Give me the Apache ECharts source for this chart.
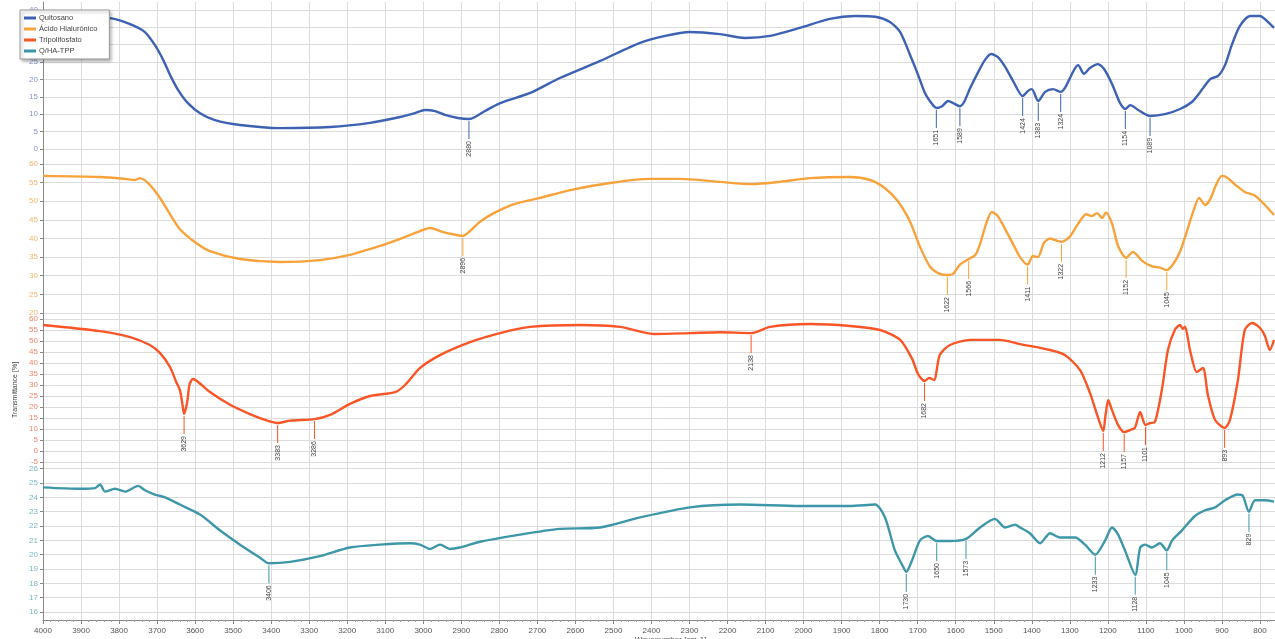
<!DOCTYPE html>
<html>
<head>
<meta charset="utf-8">
<script src="https://cdn.jsdelivr.net/npm/echarts@6/dist/echarts.min.js"></script>
<style>
  html, body { margin: 0; padding: 0; background: #fff; }
  #chart { width: 1275px; height: 639px; }
</style>
</head>
<body>
<div id="chart"></div>
<script>
// FTIR spectra, [wavenumber cm-1, transmittance %]
const quitosano = [
  [4000,38.8],[3929,38.2],[3824,37.6],[3771,35.9],[3732,33.6],[3706,29.9],[3684,25.6],[3666,21.3],
  [3645,17.0],[3619,13.2],[3587,10.3],[3548,8.3],[3482,6.9],[3377,6.0],[3245,6.3],[3140,7.5],
  [3061,9.2],[3022,10.3],[2996,11.2],[2969,10.9],[2943,9.8],[2909,8.9],[2880,8.6],[2864,9.2],
  [2838,10.9],[2798,13.2],[2719,16.1],[2641,20.4],[2535,25.3],[2430,30.5],[2364,32.5],[2299,33.6],
  [2220,33.0],[2154,31.9],[2088,32.5],[2010,34.8],[1931,37.4],[1865,38.2],[1812,38.0],[1773,36.5],
  [1746,33.6],[1720,27.0],[1699,21.3],[1681,16.1],[1662,12.9],[1651,11.8],[1636,12.3],[1620,13.8],
  [1607,13.2],[1589,12.3],[1578,13.5],[1562,17.5],[1541,22.1],[1523,25.6],[1507,27.3],[1489,26.4],
  [1470,23.6],[1449,19.5],[1424,15.2],[1410,16.7],[1400,17.2],[1383,13.8],[1365,16.4],[1344,17.2],
  [1324,16.4],[1310,18.1],[1289,22.7],[1278,24.1],[1263,21.6],[1247,23.3],[1226,24.4],[1210,23.0],
  [1189,18.7],[1168,13.2],[1154,11.5],[1141,12.6],[1120,11.2],[1089,9.5],[1050,10.0],[1010,11.5],
  [979,13.5],[957,16.4],[931,20.1],[910,21.0],[892,24.1],[874,29.9],[853,35.3],[826,38.2],
  [800,38.2],[779,36.5],[763,34.8]
];
const acidoHialuronico = [
  [4000,56.8],[3850,56.5],[3784,56.0],[3758,55.7],[3745,56.2],[3719,54.4],[3692,50.8],[3666,46.5],
  [3640,42.5],[3600,39.0],[3561,36.6],[3482,34.5],[3377,33.7],[3272,34.2],[3193,35.6],[3114,38.0],
  [3061,39.9],[3009,42.0],[2982,42.8],[2956,42.0],[2930,41.3],[2896,40.7],[2877,42.0],[2851,44.5],
  [2811,47.0],[2759,49.3],[2693,50.9],[2614,53.0],[2509,54.9],[2404,56.0],[2325,56.0],[2220,55.2],
  [2136,54.6],[2062,55.2],[1983,56.2],[1878,56.5],[1825,55.7],[1786,53.5],[1752,50.0],[1720,44.5],
  [1694,37.8],[1668,32.5],[1642,30.5],[1622,30.2],[1607,30.5],[1589,33.0],[1566,34.5],[1549,35.5],
  [1536,38.5],[1520,44.0],[1505,47.1],[1489,46.0],[1470,42.5],[1449,38.5],[1431,35.0],[1411,33.0],
  [1397,35.3],[1384,35.0],[1368,38.8],[1352,40.0],[1331,39.3],[1322,39.1],[1300,40.5],[1278,44.0],
  [1257,46.5],[1242,46.0],[1228,46.8],[1215,45.5],[1205,47.0],[1189,44.0],[1173,38.0],[1152,34.8],
  [1134,36.4],[1110,34.0],[1084,32.5],[1063,32.2],[1045,31.5],[1029,33.0],[1010,36.5],[992,42.0],
  [973,48.0],[960,50.9],[944,49.0],[931,50.5],[915,54.5],[900,56.8],[884,56.2],[866,54.5],
  [840,52.5],[813,51.5],[787,49.0],[763,46.3]
];
const tripolifosfato = [
  [4000,57.3],[3850,54.5],[3771,51.8],[3719,48.2],[3692,44.5],[3666,38.2],[3650,31.5],[3640,27.7],
  [3634,22.0],[3629,16.8],[3621,22.0],[3615,30.0],[3606,32.7],[3592,31.4],[3561,26.8],[3508,21.0],
  [3456,16.8],[3410,13.8],[3383,12.7],[3350,13.8],[3286,14.5],[3245,16.4],[3193,21.4],[3140,25.0],
  [3074,26.8],[3048,30.0],[3009,37.7],[2956,43.6],[2877,49.5],[2798,53.6],[2719,56.4],[2588,57.3],
  [2483,56.4],[2391,53.2],[2299,53.6],[2220,54.0],[2138,53.6],[2088,56.4],[1983,57.7],[1878,56.8],
  [1799,55.0],[1746,50.5],[1715,42.0],[1699,35.0],[1682,31.8],[1670,33.2],[1657,32.3],[1642,43.6],
  [1615,48.2],[1562,50.5],[1484,50.5],[1431,48.6],[1352,45.9],[1313,43.6],[1273,36.8],[1247,26.4],
  [1228,16.4],[1212,9.1],[1207,15.0],[1199,23.2],[1189,18.6],[1173,11.8],[1157,8.6],[1142,9.5],
  [1129,10.5],[1115,17.7],[1101,11.8],[1089,12.7],[1076,13.2],[1058,27.7],[1042,45.9],[1024,55.0],
  [1010,57.3],[1003,55.5],[997,56.5],[984,45.9],[966,35.9],[950,37.7],[937,25.5],[918,14.1],
  [893,10.5],[879,14.1],[858,32.3],[840,55.0],[821,58.2],[800,55.9],[787,52.3],[774,45.9],[763,50.5]
];
const qhaTpp = [
  [4000,24.7],[3903,24.6],[3863,24.65],[3850,24.9],[3837,24.4],[3811,24.6],[3784,24.4],[3750,24.8],
  [3732,24.5],[3706,24.2],[3679,24.0],[3640,23.5],[3587,22.8],[3535,21.7],[3482,20.7],[3430,19.8],
  [3406,19.4],[3350,19.5],[3272,19.9],[3193,20.5],[3114,20.7],[3035,20.8],[3009,20.7],[2982,20.4],
  [2956,20.7],[2930,20.4],[2904,20.5],[2851,20.9],[2746,21.4],[2641,21.8],[2535,21.9],[2430,22.6],
  [2299,23.3],[2167,23.5],[2010,23.4],[1878,23.4],[1812,23.5],[1786,22.6],[1760,20.3],[1741,19.3],
  [1730,18.8],[1715,19.6],[1694,21.0],[1673,21.3],[1650,20.95],[1615,20.95],[1573,21.1],[1536,21.9],
  [1497,22.5],[1470,21.9],[1444,22.1],[1431,21.9],[1405,21.5],[1378,20.8],[1352,21.5],[1326,21.2],
  [1286,21.2],[1260,20.7],[1233,20.0],[1207,21.0],[1189,21.9],[1173,21.4],[1155,20.3],[1128,18.6],
  [1115,20.5],[1102,20.7],[1084,20.5],[1063,20.8],[1045,20.3],[1031,21.0],[1005,21.7],[971,22.7],
  [944,23.1],[918,23.3],[892,23.8],[858,24.2],[845,24.1],[829,23.0],[813,23.8],[787,23.8],[763,23.7]
];

// labelled band positions [wavenumber, transmittance at the band]
const quitosanoPeaks = [[2880,8.6],[1651,11.8],[1589,12.3],[1424,15.2],[1383,13.8],[1324,16.4],[1154,11.5],[1089,9.5]];
const acidoPeaks = [[2896,40.7],[1622,30.2],[1566,34.5],[1411,33.0],[1322,39.1],[1152,34.8],[1045,31.5]];
const tppPeaks = [[3629,16.8],[3383,12.7],[3286,14.5],[2138,53.6],[1682,31.8],[1212,9.1],[1157,8.6],[1101,11.8],[893,10.5]];
const qhaPeaks = [[3406,19.4],[1730,18.8],[1650,20.95],[1573,21.1],[1233,20.0],[1128,18.6],[1045,20.3],[829,23.0]];

const xTicksMin = 700, xTicksMax = 4000;
const yTicks1 = [0,5,10,15,20,25,30,35,40];
const yTicks2 = [20,25,30,35,40,45,50,55,60];
const yTicks3 = [-5,0,5,10,15,20,25,30,35,40,45,50,55,60];
const yTicks4 = [16,17,18,19,20,21,22,23,24,25,26];

const names = ['Quitosano', 'Ácido Hialurônico', 'Tripolifosfato', 'Q/HA-TPP'];
const colors = ['#3d62b3', '#f7a23b', '#fa5526', '#3d97a8'];
const labelColors = ['#8394d2', '#f6b56a', '#f5836a', '#78b7c4'];

const FONT = 'Liberation Sans, Arial, sans-serif';
const panels = [
  { top: 2,   height: 156, min: -2.59, max: 42.24, ticks: yTicks1, data: quitosano, peaks: quitosanoPeaks },
  { top: 158, height: 157, min: 19.46, max: 61.61, ticks: yTicks2, data: acidoHialuronico, peaks: acidoPeaks },
  { top: 315, height: 150, min: -6.36, max: 61.82, ticks: yTicks3, data: tripolifosfato, peaks: tppPeaks },
  { top: 465, height: 155, min: 15.44, max: 26.26, ticks: yTicks4, data: qhaTpp, peaks: qhaPeaks }
];

const grid = [], xAxis = [], yAxis = [], series = [];
panels.forEach((p, i) => {
  const last = i === panels.length - 1;
  // the plot runs on past the right edge of the page, down to 700 cm-1
  grid.push({ left: 43, top: p.top, width: 1255, height: p.height,
              containLabel: false, outerBoundsMode: 'none' });
  xAxis.push({
    type: 'value', gridIndex: i, inverse: true, min: xTicksMin, max: xTicksMax, interval: 100,
    axisLine: { show: last, lineStyle: { color: '#888' } },
    axisTick: { show: last, length: 4, lineStyle: { color: '#888' } },
    minorTick: { show: last, splitNumber: 5, length: 2, lineStyle: { color: '#999' } },
    axisLabel: { show: last, color: '#555', fontSize: 8, fontFamily: FONT, margin: 7,
                 formatter: v => String(v) },
    splitLine: { show: true, lineStyle: { color: '#dcdcdc', width: 1 } },
    name: last ? 'Wavenumber [cm-1]' : '', nameLocation: 'middle', nameGap: 15,
    nameTextStyle: { color: '#555', fontSize: 8, fontFamily: FONT, verticalAlign: 'top' }
  });
  yAxis.push({
    type: 'value', gridIndex: i, min: p.min, max: p.max,
    axisLine: { show: true, lineStyle: { color: '#888' } },
    axisTick: { show: true, length: 3, customValues: p.ticks, lineStyle: { color: '#888' } },
    axisLabel: { customValues: p.ticks, color: labelColors[i], fontSize: 8, fontFamily: FONT, margin: 5,
                 formatter: v => String(v) },
    splitLine: { show: true, lineStyle: { color: '#dcdcdc', width: 1 } },
    name: i === 2 ? 'Transmittance [%]' : '', nameLocation: 'middle', nameGap: 24,
    nameTextStyle: { color: '#444', fontSize: 7, fontFamily: FONT }
  });
  series.push({
    name: names[i], type: 'line', xAxisIndex: i, yAxisIndex: i, data: p.data,
    showSymbol: false, smooth: 0.25, color: colors[i],
    lineStyle: { width: 2.4, color: colors[i] }, z: 3
  });
  series.push({
    type: 'custom', xAxisIndex: i, yAxisIndex: i, data: p.peaks, z: 4, silent: true,
    renderItem: function (params, api) {
      const pt = api.coord([api.value(0), api.value(1)]);
      const len = 18;
      return {
        type: 'group',
        children: [
          { type: 'line', shape: { x1: pt[0], y1: pt[1] + 2, x2: pt[0], y2: pt[1] + 2 + len },
            style: { stroke: colors[i], lineWidth: 1 } },
          { type: 'text', x: pt[0], y: pt[1] + len + 4, rotation: Math.PI / 2,
            style: { text: String(api.value(0)), fill: '#444', fontSize: 7, fontFamily: FONT,
                     align: 'right', verticalAlign: 'middle' } }
        ]
      };
    }
  });
});

const chart = echarts.init(document.getElementById('chart'));
chart.setOption({
  animation: false,
  backgroundColor: '#fff',
  grid, xAxis, yAxis, series,
  legend: {
    data: names, orient: 'vertical', left: 20, top: 10, z: 10,
    backgroundColor: '#fff', borderColor: '#999', borderWidth: 1, borderRadius: 0,
    padding: [4, 12, 4, 4], itemGap: 3, itemWidth: 12, itemHeight: 3, icon: 'rect',
    shadowBlur: 3, shadowColor: 'rgba(0,0,0,0.3)', shadowOffsetX: 2, shadowOffsetY: 2,
    textStyle: { fontSize: 7.5, color: '#444', fontFamily: FONT, padding: [0, 0, 0, -2] }
  }
});
</script>
</body>
</html>
